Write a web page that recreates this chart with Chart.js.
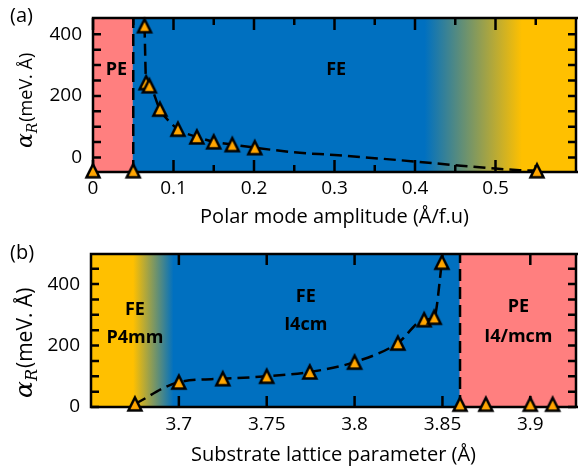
<!DOCTYPE html>
<html><head><meta charset="utf-8">
<script src="https://cdn.jsdelivr.net/npm/chart.js@4"></script>
<style>
html,body{margin:0;padding:0;background:#fff;overflow:hidden;width:583px;height:474px;position:relative}
#ca{position:absolute;left:0;top:0}
#cb{position:absolute;left:0;top:230px}
</style></head><body>
<canvas id="ca" width="586" height="230"></canvas>
<canvas id="cb" width="586" height="244"></canvas>
<script>
// ---------- Panel (a): Rashba coefficient vs polar mode amplitude ----------
const aAmplitude = [0, 0.05, 0.064, 0.066, 0.070, 0.083, 0.1055, 0.129, 0.150, 0.173, 0.201, 0.5515];
const aRashba    = [-43, -43, 428, 243, 233, 157, 92, 67, 51, 42, 32, -43];
const aTrendAmplitude = [0.064, 0.066, 0.070, 0.083, 0.1055, 0.129, 0.150, 0.173, 0.201, 0.25, 0.30, 0.35, 0.40, 0.45, 0.50, 0.53, 0.5515];
const aTrendRashba    = [428, 243, 233, 157, 92, 67, 51, 42, 32, 17, 8, -2, -13, -25, -36, -41, -43];
const aPhaseBoundary = 0.05;
const aPhaseEdges = [0.05, 0.412, 0.533];
const aXRange = [0, 0.6];
const aYRange = [-47, 453];
const aXMajor = [0, 0.1, 0.2, 0.3, 0.4, 0.5];
const aXLabels = ['0', '0.1', '0.2', '0.3', '0.4', '0.5'];
const aXMinor = [0.05, 0.15, 0.25, 0.35, 0.45, 0.55];
const aYMajor = [0, 200, 400];
const aYLabels = ['0', '200', '400'];
const aYMinor = [50, 100, 150, 250, 300, 350];
const aPhaseText = ['PE', 'FE'];
const aXTitle = 'Polar mode amplitude (Å/f.u)';

// ---------- Panel (b): Rashba coefficient vs substrate lattice parameter ----------
const bLattice = [3.675, 3.700, 3.725, 3.750, 3.7745, 3.800, 3.8246, 3.8396, 3.8453, 3.8497, 3.860, 3.8747, 3.900, 3.9127];
const bRashba  = [10, 81, 92, 100, 114, 146, 208, 284, 292, 471, 9, 9, 9, 9];
const bTrendLattice = [3.675, 3.700, 3.725, 3.750, 3.7745, 3.800, 3.8246, 3.8396, 3.8453, 3.8497];
const bTrendRashba  = [10, 81, 92, 100, 114, 146, 208, 284, 292, 471];
const bPhaseBoundary = 3.86;
const bPhaseEdges = [3.674, 3.697, 3.86];
const bXRange = [3.65, 3.926];
const bYRange = [0, 498];
const bXMajor = [3.7, 3.75, 3.8, 3.85, 3.9];
const bXLabels = ['3.7', '3.75', '3.8', '3.85', '3.9'];
const bXMinor = [];
const bYMajor = [0, 200, 400];
const bYLabels = ['0', '200', '400'];
const bYMinor = [50, 100, 150, 250, 300, 350, 450];
const bPhaseText = [['FE', 'P4mm'], ['FE', 'I4cm'], ['PE', 'I4/mcm']];
const bXTitle = 'Substrate lattice parameter (Å)';

// ---------- styling ----------
const RED = '#FF7F7F', BLUE = '#0070C0', YELLOW = '#FFC000', ORANGE = '#FFA500';
const FONT = '"Open Sans", "DejaVu Sans", sans-serif';

const triangle = (() => {
  const c = document.createElement('canvas'); c.width = 22; c.height = 22;
  const g = c.getContext('2d');
  g.beginPath(); g.moveTo(11, 4.5); g.lineTo(17.5, 17.5); g.lineTo(4.5, 17.5); g.closePath();
  g.fillStyle = ORANGE; g.fill();
  g.lineWidth = 2.5; g.lineJoin = 'miter'; g.strokeStyle = '#000'; g.stroke();
  return c;
})();

const pts = (xs, ys) => xs.map((x, i) => ({x, y: ys[i]}));
const near = (a, b) => Math.abs(a - b) < 1e-9;

const panelPlugin = {
  id: 'panel',
  beforeDatasetsDraw(chart, args, o) {
    const {ctx, chartArea: a, scales: {x, y}} = chart;
    ctx.save();
    ctx.beginPath(); ctx.rect(a.left, a.top, a.right - a.left, a.bottom - a.top); ctx.clip();
    const edges = [x.min, ...o.edges, x.max];
    o.fills.forEach((f, i) => {
      const p0 = x.getPixelForValue(edges[i]), p1 = x.getPixelForValue(edges[i + 1]);
      let style = f;
      if (Array.isArray(f)) {
        const g = ctx.createLinearGradient(p0, 0, p1, 0);
        g.addColorStop(0, f[0]); g.addColorStop(1, f[1]); style = g;
      }
      ctx.fillStyle = style;
      ctx.fillRect(p0 - 0.5, a.top, p1 - p0 + 1, a.bottom - a.top);
    });
    ctx.restore();
    // ticks (inward, all four sides)
    ctx.save();
    ctx.strokeStyle = '#000'; ctx.lineWidth = 2.5; ctx.lineCap = 'butt';
    ctx.beginPath();
    const xt = (vals, len) => vals.forEach(v => {
      const p = x.getPixelForValue(v);
      ctx.moveTo(p, a.bottom); ctx.lineTo(p, a.bottom - len);
      ctx.moveTo(p, a.top); ctx.lineTo(p, a.top + len);
    });
    const yt = (vals, len) => vals.forEach(v => {
      const p = y.getPixelForValue(v);
      ctx.moveTo(a.left, p); ctx.lineTo(a.left + len, p);
      ctx.moveTo(a.right, p); ctx.lineTo(a.right - len, p);
    });
    xt(o.xMajor, o.xLen[0]); xt(o.xMinor, o.xLen[1]);
    yt(o.yMajor, o.yLen[0]); yt(o.yMinor, o.yLen[1]);
    ctx.stroke();
    // frame
    ctx.beginPath();
    ctx.moveTo(a.right + 2, a.top); ctx.lineTo(a.left, a.top); ctx.lineTo(a.left, a.bottom); ctx.lineTo(a.right + 2, a.bottom);
    ctx.moveTo(a.right, a.top); ctx.lineTo(a.right, a.bottom);
    ctx.stroke();
    ctx.restore();
  },
  afterDraw(chart, args, o) {
    const {ctx, scales: {x, y}} = chart;
    ctx.save();
    ctx.fillStyle = '#000';
    // phase labels
    ctx.font = 'bold 18px ' + FONT; ctx.textAlign = 'center'; ctx.textBaseline = 'middle';
    o.labels.forEach(l => ctx.fillText(l.text, x.getPixelForValue(l.x), y.getPixelForValue(l.y)));
    // panel letter
    ctx.font = '20px ' + FONT; ctx.textAlign = 'left';
    ctx.fillText(o.letter[0], o.letter[1], o.letter[2]);
    // y title: alpha_R (meV. Å)
    const s = o.yTitle.size;
    ctx.translate(o.yTitle.x, o.yTitle.y); ctx.rotate(-Math.PI / 2);
    ctx.textBaseline = 'alphabetic';
    let px = 0;
    ctx.font = `italic ${Math.round(s * 1.2)}px "DejaVu Serif", serif`;
    ctx.fillText('α', px, 0); px += ctx.measureText('α').width;
    ctx.font = `italic ${Math.round(s * 0.75)}px "DejaVu Serif", serif`;
    ctx.fillText('R', px, s * 0.25); px += ctx.measureText('R').width + s * 0.05;
    ctx.font = `${s}px ${FONT}`;
    ctx.fillText('(meV. Å)', px, 0);
    ctx.restore();
  }
};

function makePanel(id, d) {
  const tickList = (maj, min) => [...maj, ...min].sort((p, q) => p - q).map(v => ({value: v}));
  const labelFor = (maj, lab) => v => { const i = maj.findIndex(m => near(m, v)); return i >= 0 ? lab[i] : ''; };
  return new Chart(document.getElementById(id), {
    type: 'scatter',
    data: {
      datasets: [
        { data: pts(d.x, d.y), showLine: false, pointStyle: triangle, pointRadius: 9, clip: false, order: 0 },
        { data: pts(d.tx, d.ty), showLine: true, pointRadius: 0, borderColor: '#000', borderWidth: 2.5,
          borderDash: [12, 6], cubicInterpolationMode: 'monotone', order: 1 },
        { data: [{x: d.boundary, y: d.yRange[0]}, {x: d.boundary, y: d.yRange[1]}], showLine: true, pointRadius: 0,
          borderColor: '#000', borderWidth: 2.5, borderDash: [12, 6], order: 2 }
      ]
    },
    options: {
      responsive: false, animation: false, events: [],
      devicePixelRatio: 1,
      layout: { padding: { top: d.padTop, left: 0, right: 0, bottom: 0 } },
      plugins: {
        legend: { display: false }, tooltip: { enabled: false },
        panel: {
          edges: d.edges, fills: d.fills, labels: d.labels, letter: d.letter, yTitle: d.yTitle,
          xMajor: d.xMajor, xMinor: d.xMinor, yMajor: d.yMajor, yMinor: d.yMinor, xLen: d.xLen, yLen: d.yLen
        }
      },
      scales: {
        x: {
          type: 'linear', min: d.xRange[0], max: d.xRange[1],
          grid: { display: false, drawTicks: false }, border: { display: false },
          afterBuildTicks: s => { s.ticks = tickList(d.xMajor, d.xMinor); },
          afterFit: s => { s.height = d.xHeight; s.paddingLeft = s.paddingRight = s.paddingTop = s.paddingBottom = 0; },
          ticks: { callback: labelFor(d.xMajor, d.xLabels), autoSkip: false, maxRotation: 0, padding: d.xPad,
                   color: '#000', font: { family: FONT, size: 19 } },
          title: { display: true, text: d.xTitle, color: '#000', font: { family: FONT, size: 20 },
                   padding: { top: 0, bottom: d.xTitlePad } }
        },
        y: {
          type: 'linear', min: d.yRange[0], max: d.yRange[1],
          grid: { display: false, drawTicks: false }, border: { display: false },
          afterBuildTicks: s => { s.ticks = tickList(d.yMajor, d.yMinor); },
          afterFit: s => { s.width = d.yWidth; s.paddingLeft = s.paddingRight = s.paddingTop = s.paddingBottom = 0; },
          ticks: { callback: labelFor(d.yMajor, d.yLabels), autoSkip: false, padding: 11,
                   color: '#000', font: { family: FONT, size: 19 } }
        }
      }
    },
    plugins: [panelPlugin]
  });
}

makePanel('ca', {
  x: aAmplitude, y: aRashba, tx: aTrendAmplitude, ty: aTrendRashba,
  boundary: aPhaseBoundary, edges: aPhaseEdges, fills: [RED, BLUE, [BLUE, YELLOW], YELLOW],
  xRange: aXRange, yRange: aYRange, xMajor: aXMajor, xLabels: aXLabels, xMinor: aXMinor,
  yMajor: aYMajor, yLabels: aYLabels, yMinor: aYMinor, xLen: [12, 7], yLen: [8, 8],
  labels: [{text: aPhaseText[0], x: 0.029, y: 284}, {text: aPhaseText[1], x: 0.302, y: 284}],
  letter: ['(a)', 10, 16], yTitle: {x: 32, y: 148, size: 18},
  padTop: 18, xHeight: 58, yWidth: 93, xPad: 5, xTitle: aXTitle, xTitlePad: 1
});

makePanel('cb', {
  x: bLattice, y: bRashba, tx: bTrendLattice, ty: bTrendRashba,
  boundary: bPhaseBoundary, edges: bPhaseEdges, fills: [YELLOW, [YELLOW, BLUE], BLUE, RED],
  xRange: bXRange, yRange: bYRange, xMajor: bXMajor, xLabels: bXLabels, xMinor: bXMinor,
  yMajor: bYMajor, yLabels: bYLabels, yMinor: bYMinor, xLen: [11, 11], yLen: [8, 8],
  labels: [
    {text: bPhaseText[0][0], x: 3.675, y: 317}, {text: bPhaseText[0][1], x: 3.675, y: 226},
    {text: bPhaseText[1][0], x: 3.7722, y: 359}, {text: bPhaseText[1][1], x: 3.7722, y: 268},
    {text: bPhaseText[2][0], x: 3.8932, y: 326}, {text: bPhaseText[2][1], x: 3.8932, y: 229}
  ],
  letter: ['(b)', 10, 23], yTitle: {x: 32, y: 168, size: 21},
  padTop: 24, xHeight: 67, yWidth: 91, xPad: 6, xTitle: bXTitle, xTitlePad: 7
});
</script>
</body></html>
